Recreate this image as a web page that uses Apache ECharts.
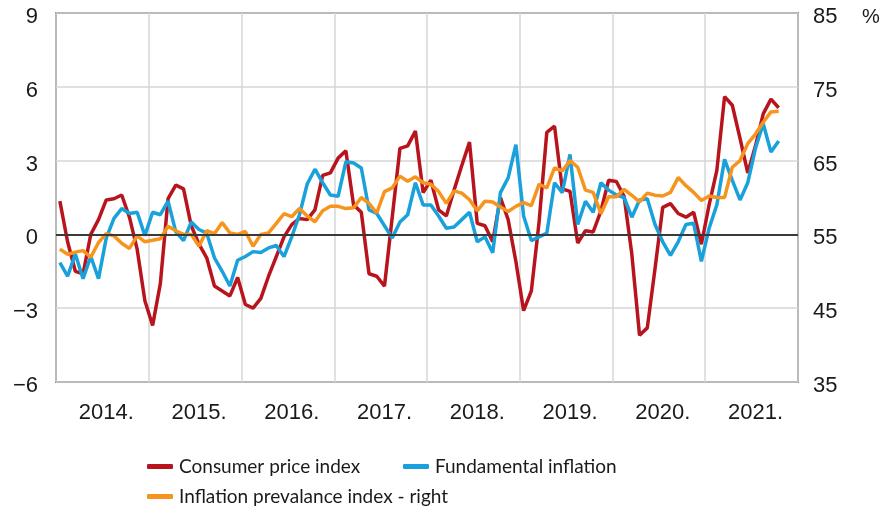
<!DOCTYPE html>
<html>
<head>
<meta charset="utf-8">
<script src="https://cdn.jsdelivr.net/npm/echarts@6/dist/echarts.min.js"></script>
<style>
html,body{margin:0;padding:0;background:#fff;}
#chart{width:880px;height:521px;}
</style>
</head>
<body>
<div id="chart"></div>
<script>
// year labels on the x axis (monthly data, Jan 2014 - Oct 2021)
var years = ['2014.', '2015.', '2016.', '2017.', '2018.', '2019.', '2020.', '2021.'];

// Consumer price index, %
var cpi = [
	1.35, -0.3, -1.5, -1.6, 0.0, 0.6, 1.4, 1.45, 1.6, 0.7, -0.6, -2.7,
	-3.7, -2.0, 1.45, 2.0, 1.85, 0.35, -0.4, -0.95, -2.1, -2.3, -2.5, -1.75,
	-2.85, -3.0, -2.6, -1.7, -0.9, -0.1, 0.4, 0.65, 0.6, 1.0, 2.4, 2.5,
	3.1, 3.4, 1.2, 0.9, -1.6, -1.7, -2.1, 0.7, 3.5, 3.6, 4.2, 1.7,
	2.2, 1.0, 0.75, 1.8, 2.8, 3.75, 0.45, 0.35, -0.3, 1.5, 0.6, -1.1,
	-3.1, -2.3, 0.5, 4.15, 4.4, 1.85, 1.75, -0.35, 0.15, 0.1, 0.95, 2.2,
	2.15, 1.55, -0.8, -4.1, -3.8, -1.4, 1.1, 1.25, 0.85, 0.7, 0.9, -0.4,
	1.2, 2.6, 5.6, 5.25, 3.9, 2.5, 3.6, 4.9, 5.5, 5.15
];

// Fundamental inflation, %
var fundamental = [
	-1.15, -1.7, -0.8, -1.8, -0.9, -1.8, -0.15, 0.65, 1.05, 0.85, 0.9, -0.05,
	0.9, 0.8, 1.35, 0.1, -0.25, 0.5, 0.2, 0.05, -0.95, -1.5, -2.1, -1.05,
	-0.9, -0.7, -0.74, -0.55, -0.45, -0.9, -0.1, 0.8, 2.05, 2.65, 2.1, 1.6,
	1.55, 2.95, 2.9, 2.7, 1.0, 0.85, 0.35, -0.15, 0.5, 0.8, 2.1, 1.2,
	1.2, 0.75, 0.25, 0.3, 0.6, 0.9, -0.3, -0.1, -0.75, 1.7, 2.3, 3.65,
	0.75, -0.25, -0.1, 0.05, 2.1, 1.7, 3.25, 0.4, 1.35, 0.9, 2.1, 1.8,
	1.6, 1.5, 0.7, 1.4, 1.45, 0.4, -0.3, -0.85, -0.3, 0.4, 0.45, -1.1,
	0.25, 1.2, 3.05, 2.2, 1.4, 2.1, 3.5, 4.5, 3.35, 3.8
];

// Inflation prevalance index, right axis
var prevalence = [
	53.0, 52.3, 52.6, 52.8, 51.9, 53.9, 55.1, 54.8, 53.8, 53.1, 54.8, 54.0,
	54.2, 54.4, 56.1, 55.5, 55.0, 55.0, 53.4, 55.5, 55.1, 56.6, 55.2, 55.0,
	55.4, 53.4, 55.0, 55.2, 56.5, 57.8, 57.4, 58.5, 57.5, 56.7, 58.2, 58.8,
	58.8, 58.5, 58.6, 60.0, 59.2, 57.9, 60.8, 61.3, 62.9, 62.2, 62.8, 62.0,
	61.8, 60.8, 59.2, 60.9, 60.6, 59.7, 58.2, 59.5, 59.4, 58.7, 58.1, 58.8,
	59.3, 58.9, 61.8, 61.3, 64.0, 63.6, 65.0, 64.1, 61.0, 60.7, 57.8, 60.1,
	60.1, 61.1, 60.3, 59.4, 60.6, 60.3, 60.2, 60.7, 62.7, 61.6, 60.7, 59.6,
	60.2, 60.0, 60.0, 64.1, 65.0, 67.3, 68.6, 70.2, 71.6, 71.7
];

var names = ['Consumer price index', 'Fundamental inflation', 'Inflation prevalance index - right'];
var colors = ['#b8141e', '#19a1dc', '#f7941d'];

var tickFont = "'Liberation Sans', Arial, sans-serif";
var legendFont = "Lato, sans-serif";

$months = [];
for (var y = 0; y < years.length; y++) {
	for (var m = 1; m <= 12; m++) {
		$months.push(years[y] + m);
	}
}

// tick labels sit a little below their grid line in the original
function shifted(txt) {
	return '{t|' + txt + '}';
}
function fmtNum(val) {
	return shifted(val < 0 ? '\u2212' + Math.abs(val) : '' + val);
}
var tickRich = {t: {fontFamily: tickFont, fontSize: 22, color: '#1a1a1a', padding: [8, 0, 0, 0]}};

function legendBox(name, left, top) {
	return {
		data: [name],
		left: left,
		top: top,
		padding: 0,
		icon: 'roundRect',
		itemWidth: 26,
		itemHeight: 5,
		itemGap: 0,
		selectedMode: false,
		textStyle: {fontFamily: legendFont, fontSize: 19, color: '#1a1a1a', padding: [0, 0, 0, 1]}
	};
}

function initChart() {
	var myChart = echarts.init(document.getElementById('chart'), null, {renderer: 'canvas'});
	var option = {
		animation: false,
		backgroundColor: '#fff',
		grid: {
			left: 56, right: 82, top: 13, bottom: 139,
			show: true, borderColor: '#3a3a3a', borderWidth: 1.5, backgroundColor: 'transparent'
		},
		legend: [
			legendBox(names[0], 147, 457),
			legendBox(names[1], 403, 457),
			legendBox(names[2], 147, 487)
		],
		graphic: [{
			type: 'text', left: 862, top: 7,
			style: {text: '%', fontFamily: tickFont, fontSize: 20, fill: '#1a1a1a'}
		}],
		xAxis: {
			type: 'category',
			data: $months,
			boundaryGap: true,
			axisLine: {show: false},
			axisTick: {show: false},
			axisLabel: {
				interval: function (index) { return index % 12 === 6; },
				formatter: function (val, index) { return years[Math.floor(index / 12)]; },
				margin: 20,
				fontFamily: tickFont, fontSize: 22, color: '#1a1a1a'
			},
			splitLine: {show: true, interval: 11, lineStyle: {color: '#d6d6d6', width: 1.5}}
		},
		yAxis: [{
			type: 'value', min: -6, max: 9, interval: 3,
			axisLine: {show: false}, axisTick: {show: false},
			axisLabel: {margin: 18, formatter: fmtNum, rich: tickRich},
			splitLine: {show: true, lineStyle: {color: '#d6d6d6', width: 1.5}}
		}, {
			type: 'value', min: 35, max: 85, interval: 10, position: 'right',
			axisLine: {show: false}, axisTick: {show: false},
			axisLabel: {margin: 15, formatter: function (val) { return shifted(val); }, rich: tickRich},
			splitLine: {show: false}
		}],
		series: [
			{
				// zero line, drawn under the data lines
				type: 'line', data: [], silent: true,
				markLine: {
					silent: true, symbol: ['none', 'none'],
					label: {show: false},
					lineStyle: {color: '#3a3a3a', width: 2, type: 'solid'},
					data: [{yAxis: 0}]
				}
			},
			{name: names[0], type: 'line', data: cpi, yAxisIndex: 0, showSymbol: false, color: colors[0], lineStyle: {width: 3.5}},
			{name: names[1], type: 'line', data: fundamental, yAxisIndex: 0, showSymbol: false, color: colors[1], lineStyle: {width: 3.5}},
			{name: names[2], type: 'line', data: prevalence, yAxisIndex: 1, showSymbol: false, color: colors[2], lineStyle: {width: 3.5}}
		]
	};
	myChart.setOption(option);
}

initChart();
</script>
</body>
</html>
